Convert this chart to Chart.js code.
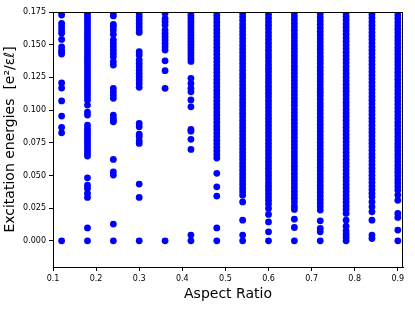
<!DOCTYPE html>
<html>
<head>
<meta charset="utf-8">
<script src="https://cdn.jsdelivr.net/npm/chart.js@4"></script>
<style>body{margin:0;background:#fff}</style>
</head>
<body>
<canvas id="canvas" width="415" height="311"></canvas>
<script>
// aspect ratios (x) and the excitation energies found at each one (y)
const aspectRatios = [0.12, 0.18, 0.24, 0.30, 0.36, 0.42, 0.48, 0.54, 0.60, 0.66, 0.72, 0.78, 0.84, 0.90]

const e012 = [0, 0.0826, 0.0868, 0.0954, 0.107, 0.1168, 0.1207, 0.1428, 0.1445, 0.1459, 0.1484, 0.154, 0.1587, 0.1612, 0.1637, 0.1663, 0.1727, 0.1748]
const e018 = [0, 0.0099, 0.0332, 0.0363, 0.0401, 0.0426, 0.0482, 0.0648, 0.0668, 0.0690, 0.0711, 0.0732, 0.0752, 0.0774, 0.0795, 0.0816, 0.0838, 0.0860, 0.0885, 0.0962, 0.0985, 0.1038, 0.1077, 0.1102, 0.1124, 0.1146, 0.1168, 0.1190, 0.1212, 0.1234, 0.1256, 0.1278, 0.1300, 0.1322, 0.1344, 0.1366, 0.1388, 0.1410, 0.1432, 0.1454, 0.1476, 0.1498, 0.1520, 0.1542, 0.1564, 0.1586, 0.1608, 0.1630, 0.1652, 0.1674, 0.1696, 0.1718, 0.1740, 0.1756]
const e024 = [0, 0.0128, 0.0503, 0.0528, 0.0623, 0.091, 0.0918, 0.0937, 0.0962, 0.109, 0.1115, 0.114, 0.1166, 0.1344, 0.137, 0.1408, 0.1434, 0.1459, 0.1484, 0.151, 0.1536, 0.158, 0.1612, 0.1637, 0.1655, 0.172, 0.1745]
const e030 = [0, 0.0332, 0.0434, 0.0745, 0.0765, 0.0796, 0.0816, 0.0872, 0.0898, 0.1174, 0.1204, 0.123, 0.1255, 0.1281, 0.1306, 0.1331, 0.1357, 0.1383, 0.1421, 0.1446, 0.1594, 0.1612, 0.1637, 0.1663, 0.1689, 0.1714, 0.174]
const e036 = [0, 0.1166, 0.1301, 0.1377, 0.1459, 0.1484, 0.151, 0.1536, 0.1561, 0.1587, 0.1612, 0.165, 0.1676, 0.170, 0.174]
const e042 = [0, 0.0044, 0.0699, 0.0776, 0.0839, 0.0852, 0.1025, 0.1077, 0.114, 0.1166, 0.1204, 0.1243, 0.1372, 0.1394, 0.1416, 0.1438, 0.1460, 0.1482, 0.1504, 0.1526, 0.1548, 0.1570, 0.1592, 0.1614, 0.1636, 0.1658, 0.1680, 0.1702, 0.1724, 0.1746, 0.1762]
const e048 = [0, 0.0099, 0.0342, 0.0413, 0.0516, 0.0633, 0.0660, 0.0688, 0.0715, 0.0742, 0.0770, 0.0797, 0.0824, 0.0852, 0.0879, 0.0906, 0.0934, 0.0961, 0.0988, 0.1016, 0.1043, 0.1070, 0.1098, 0.1125, 0.1152, 0.1180, 0.1207, 0.1234, 0.1262, 0.1289, 0.1316, 0.1344, 0.1371, 0.1398, 0.1426, 0.1453, 0.1480, 0.1508, 0.1535, 0.1562, 0.1590, 0.1617, 0.1644, 0.1672, 0.1699, 0.1726, 0.1754]
const e054 = [0, 0.0044, 0.0158, 0.0298, 0.0349, 0.0376, 0.0403, 0.0431, 0.0458, 0.0485, 0.0512, 0.0540, 0.0567, 0.0594, 0.0622, 0.0649, 0.0676, 0.0703, 0.0731, 0.0758, 0.0785, 0.0813, 0.0840, 0.0867, 0.0894, 0.0922, 0.0949, 0.0976, 0.1004, 0.1031, 0.1058, 0.1085, 0.1113, 0.1140, 0.1167, 0.1195, 0.1222, 0.1249, 0.1276, 0.1304, 0.1331, 0.1358, 0.1386, 0.1413, 0.1440, 0.1467, 0.1495, 0.1522, 0.1549, 0.1577, 0.1604, 0.1631, 0.1658, 0.1686, 0.1713, 0.1740, 0.1760]
const e060 = [0, 0.0069, 0.0145, 0.0202, 0.0248, 0.0281, 0.0309, 0.0336, 0.0363, 0.0391, 0.0418, 0.0445, 0.0473, 0.0500, 0.0527, 0.0555, 0.0582, 0.0609, 0.0637, 0.0664, 0.0691, 0.0719, 0.0746, 0.0773, 0.0801, 0.0828, 0.0855, 0.0883, 0.0910, 0.0937, 0.0965, 0.0992, 0.1019, 0.1047, 0.1074, 0.1101, 0.1129, 0.1156, 0.1183, 0.1211, 0.1238, 0.1265, 0.1293, 0.1320, 0.1347, 0.1375, 0.1402, 0.1429, 0.1457, 0.1484, 0.1511, 0.1539, 0.1566, 0.1593, 0.1621, 0.1648, 0.1675, 0.1703, 0.1730, 0.1757]
const e066 = [0, 0.0102, 0.0166, 0.0240, 0.0265, 0.0298, 0.0325, 0.0352, 0.0380, 0.0407, 0.0434, 0.0462, 0.0489, 0.0516, 0.0544, 0.0571, 0.0598, 0.0626, 0.0653, 0.0680, 0.0708, 0.0735, 0.0762, 0.0790, 0.0817, 0.0844, 0.0872, 0.0899, 0.0926, 0.0954, 0.0981, 0.1008, 0.1036, 0.1063, 0.1090, 0.1118, 0.1145, 0.1172, 0.1200, 0.1227, 0.1254, 0.1282, 0.1309, 0.1336, 0.1364, 0.1391, 0.1418, 0.1446, 0.1473, 0.1500, 0.1528, 0.1555, 0.1582, 0.1610, 0.1637, 0.1664, 0.1692, 0.1719, 0.1746, 0.1760]
const e072 = [0, 0.0069, 0.0095, 0.0153, 0.0235, 0.0262, 0.0290, 0.0317, 0.0344, 0.0372, 0.0399, 0.0426, 0.0454, 0.0481, 0.0508, 0.0536, 0.0563, 0.0590, 0.0618, 0.0645, 0.0672, 0.0700, 0.0727, 0.0754, 0.0782, 0.0809, 0.0836, 0.0864, 0.0891, 0.0918, 0.0946, 0.0973, 0.1000, 0.1028, 0.1055, 0.1082, 0.1110, 0.1137, 0.1164, 0.1192, 0.1219, 0.1246, 0.1274, 0.1301, 0.1328, 0.1356, 0.1383, 0.1410, 0.1438, 0.1465, 0.1492, 0.1520, 0.1547, 0.1574, 0.1602, 0.1629, 0.1656, 0.1684, 0.1711, 0.1738, 0.1760]
const e078 = [0, 0.0026, 0.0051, 0.0077, 0.0112, 0.0158, 0.0210, 0.0240, 0.0267, 0.0295, 0.0322, 0.0349, 0.0377, 0.0404, 0.0431, 0.0459, 0.0486, 0.0513, 0.0541, 0.0568, 0.0595, 0.0623, 0.0650, 0.0677, 0.0705, 0.0732, 0.0759, 0.0787, 0.0814, 0.0841, 0.0869, 0.0896, 0.0923, 0.0951, 0.0978, 0.1005, 0.1033, 0.1060, 0.1087, 0.1115, 0.1142, 0.1169, 0.1197, 0.1224, 0.1251, 0.1279, 0.1306, 0.1333, 0.1361, 0.1388, 0.1415, 0.1443, 0.1470, 0.1497, 0.1525, 0.1552, 0.1579, 0.1607, 0.1634, 0.1661, 0.1689, 0.1716, 0.1743, 0.1760]
const e084 = [0.0018, 0.0044, 0.0158, 0.0222, 0.0260, 0.0298, 0.0337, 0.0364, 0.0392, 0.0419, 0.0446, 0.0474, 0.0501, 0.0528, 0.0556, 0.0583, 0.0610, 0.0638, 0.0665, 0.0692, 0.0720, 0.0747, 0.0774, 0.0802, 0.0829, 0.0856, 0.0884, 0.0911, 0.0938, 0.0966, 0.0993, 0.1020, 0.1048, 0.1075, 0.1102, 0.1130, 0.1157, 0.1184, 0.1212, 0.1239, 0.1266, 0.1294, 0.1321, 0.1348, 0.1376, 0.1403, 0.1430, 0.1458, 0.1485, 0.1512, 0.1540, 0.1567, 0.1594, 0.1622, 0.1649, 0.1676, 0.1704, 0.1731, 0.1758]
const e090 = [0, 0.0082, 0.0179, 0.0210, 0.0310, 0.0350, 0.0388, 0.0415, 0.0443, 0.0470, 0.0497, 0.0525, 0.0552, 0.0579, 0.0607, 0.0634, 0.0661, 0.0689, 0.0716, 0.0743, 0.0771, 0.0798, 0.0825, 0.0853, 0.0880, 0.0907, 0.0935, 0.0962, 0.0989, 0.1017, 0.1044, 0.1071, 0.1099, 0.1126, 0.1153, 0.1181, 0.1208, 0.1235, 0.1263, 0.1290, 0.1317, 0.1345, 0.1372, 0.1399, 0.1427, 0.1454, 0.1481, 0.1509, 0.1536, 0.1563, 0.1591, 0.1618, 0.1645, 0.1673, 0.1700, 0.1727, 0.1755]

const energies = [e012, e018, e024, e030, e036, e042, e048, e054, e060, e066, e072, e078, e084, e090]

const xTicks = [0.1, 0.2, 0.3, 0.4, 0.5, 0.6, 0.7, 0.8, 0.9]
const yTicks = [0, 0.025, 0.05, 0.075, 0.1, 0.125, 0.15, 0.175]

const points = []
aspectRatios.forEach((x, i) => {
    energies[i].forEach(y => points.push({x: x, y: y}))
})

const font = 'DejaVu Sans'

// matplotlib style box: close the top and right sides of the plot
const frame = {
    id: 'frame',
    afterDraw(chart) {
        const a = chart.chartArea, ctx = chart.ctx
        ctx.save()
        ctx.strokeStyle = '#000'
        ctx.lineWidth = 1
        ctx.beginPath()
        ctx.moveTo(Math.round(a.left), Math.round(a.top) + 0.5)
        ctx.lineTo(Math.round(a.right), Math.round(a.top) + 0.5)
        ctx.moveTo(Math.round(a.right) - 0.5, Math.round(a.top))
        ctx.lineTo(Math.round(a.right) - 0.5, Math.round(a.bottom))
        ctx.stroke()
        ctx.restore()
    }
}

const data = {
    datasets: [{
        data: points,
        backgroundColor: '#0000ff',
        borderColor: '#0000ff',
        borderWidth: 0,
        pointRadius: 3.4,
        clip: 0,
    }]
}

const config = {
    type: 'scatter',
    data: data,
    plugins: [frame],
    options: {
        responsive: false,
        animation: false,
        layout: {padding: {top: 12, right: 12, left: 0, bottom: 0}},
        plugins: {legend: {display: false}, tooltip: {enabled: false}},
        scales: {
            x: {
                type: 'linear',
                min: 0.1,
                max: 0.912,
                afterBuildTicks: s => { s.ticks = xTicks.map(v => ({value: v})) },
                afterFit: s => { s.height = 44 },
                ticks: {
                    font: {family: font, size: 8},
                    color: '#000',
                    maxRotation: 0,
                    padding: 3,
                    callback: v => Number(v).toFixed(1),
                },
                grid: {drawOnChartArea: false, tickLength: 4, color: '#000'},
                border: {color: '#000'},
                title: {
                    display: true,
                    text: 'Aspect Ratio',
                    font: {family: font, size: 14},
                    color: '#000',
                    padding: {top: 0, bottom: 8},
                },
            },
            y: {
                type: 'linear',
                min: -0.02,
                max: 0.175,
                afterBuildTicks: s => { s.ticks = yTicks.map(v => ({value: v})) },
                afterFit: s => { s.width = 53 },
                ticks: {
                    font: {family: font, size: 8},
                    color: '#000',
                    padding: 3,
                    callback: v => Number(v).toFixed(3),
                },
                grid: {drawOnChartArea: false, tickLength: 4, color: '#000'},
                border: {color: '#000'},
                title: {
                    display: true,
                    text: 'Excitation energies  [e²/εℓ]',
                    font: {family: font, size: 14},
                    color: '#000',
                    padding: {top: 2, bottom: 0},
                },
            },
        },
    },
}

const canvas = document.getElementById('canvas')
const chart = new Chart(canvas, config)
</script>
</body>
</html>
